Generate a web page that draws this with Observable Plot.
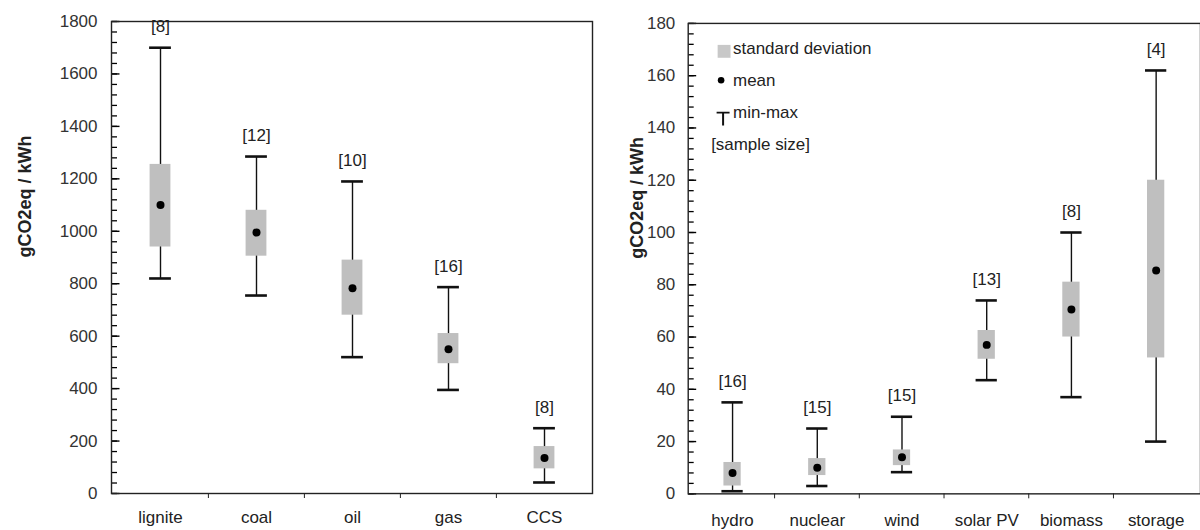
<!DOCTYPE html>
<html><head><meta charset="utf-8">
<script src="https://cdn.jsdelivr.net/npm/d3@7"></script>
<script src="https://cdn.jsdelivr.net/npm/@observablehq/plot@0.6"></script>
<style>
html,body{margin:0;padding:0;background:#fff;}
#wrap{position:relative;width:1200px;height:530px;overflow:hidden;background:#fff;}
#left{position:absolute;left:0;top:0;}
#right{position:absolute;left:600px;top:0;}
</style></head><body>
<div id="wrap"><div id="left"></div><div id="right"></div></div>
<script>
// ---- Left panel: fossil technologies ----
const fossilCats = ["lignite", "coal", "oil", "gas", "CCS"];
const fossilMin = [820, 755, 520, 395, 42];
const fossilSdLow = [940, 905, 680, 495, 94];
const fossilMean = [1100, 995, 783, 550, 135];
const fossilSdHigh = [1255, 1080, 890, 610, 179];
const fossilMax = [1700, 1285, 1190, 787, 249];
const fossilN = [8, 12, 10, 16, 8];
const fossilTicks = [0, 200, 400, 600, 800, 1000, 1200, 1400, 1600, 1800];
const fossilMinorTicks = d3.range(0, 1801, 40);

// ---- Right panel: low-carbon technologies ----
const lowCats = ["hydro", "nuclear", "wind", "solar PV", "biomass", "storage"];
const lowMin = [1, 3, 8.3, 43.5, 37, 20];
const lowSdLow = [3, 7, 10.8, 51.5, 60, 52];
const lowMean = [8, 10, 14, 57, 70.5, 85.5];
const lowSdHigh = [12, 13.5, 16.8, 62.5, 81, 120];
const lowMax = [35, 25, 29.5, 74, 100, 162];
const lowN = [16, 15, 15, 13, 8, 4];
const lowTicks = [0, 20, 40, 60, 80, 100, 120, 140, 160, 180];
const lowMinorTicks = d3.range(0, 181, 4);

const yTitle = "gCO2eq / kWh";
const legendLabels = ["standard deviation", "mean", "min-max", "[sample size]"];

function rows(cats, mn, lo, me, hi, mx, n) {
  return cats.map((c, i) => ({cat: c, min: mn[i], sdLow: lo[i], mean: me[i], sdHigh: hi[i], max: mx[i], n: n[i]}));
}

const tSymbol = {
  draw(ctx, size) {
    const s = Math.sqrt(size / Math.PI);
    ctx.moveTo(-s, -s); ctx.lineTo(s, -s);
    ctx.moveTo(0, -s); ctx.lineTo(0, s);
  }
};
// inward-pointing axis tick: a horizontal segment from the axis line to the right
const inTick = {
  draw(ctx, size) {
    const s = Math.sqrt(size / Math.PI);
    ctx.moveTo(0, 0); ctx.lineTo(s, 0);
  }
};

function panel(o) {
  const data = rows(o.cats, o.min, o.sdLow, o.mean, o.sdHigh, o.max, o.n);
  const bw = (o.width - o.ml - o.mr) / o.cats.length;
  const marks = [
    Plot.ruleX(data, {x: "cat", y1: "min", y2: "max", stroke: "#111", strokeWidth: 1.4}),
    Plot.barY(data, {x: "cat", y1: "sdLow", y2: "sdHigh", fill: "#bfbfbf", insetLeft: (bw - o.boxW) / 2, insetRight: (bw - o.boxW) / 2}),
    Plot.tickY(data, {x: "cat", y: "max", stroke: "#111", strokeWidth: 2.6, insetLeft: (bw - o.capW) / 2, insetRight: (bw - o.capW) / 2}),
    Plot.tickY(data, {x: "cat", y: "min", stroke: "#111", strokeWidth: 2.6, insetLeft: (bw - o.capW) / 2, insetRight: (bw - o.capW) / 2}),
    Plot.dot(data, {x: "cat", y: "mean", r: 4, fill: "#000", stroke: "none"}),
    Plot.text(data, {x: "cat", y: "max", text: d => `[${d.n}]`, dy: -21, fontSize: 17, fill: "#222", lineAnchor: "middle"}),
    Plot.dot(o.minorTicks, {y: d => d, frameAnchor: "left", symbol: inTick, r: 5.5, fill: "none", stroke: "#000", strokeWidth: 1.3}),
    Plot.dot(o.ticks, {y: d => d, frameAnchor: "left", symbol: inTick, r: 8, fill: "none", stroke: "#000", strokeWidth: 1.4}),
    Plot.axisY(o.ticks, {tickSize: 0, tickPadding: o.yPad, fontSize: 17, fill: "#333", label: null, tickFormat: d3.format("d")}),
    Plot.axisX(o.cats.slice(1), {tickSize: 5, dx: -bw / 2, tickFormat: () => "", stroke: "#222", label: null}),
    Plot.axisX(o.cats, {tickSize: 0, tickPadding: o.xPad, fontSize: 17, fill: "#222", label: null}),
    Plot.text([yTitle], {frameAnchor: "left", rotate: -90, dx: o.titleDx, fontSize: 18, fontWeight: "bold", fill: "#222"}),
    Plot.frame({stroke: "#222", strokeWidth: 1.4})
  ];
  if (o.legend) {
    marks.push(
      Plot.dot([0], {frameAnchor: "top-left", dx: 36, dy: 28, symbol: "square", r: 7.3, fill: "#c8c8c8", stroke: "none"}),
      Plot.text([legendLabels[0]], {frameAnchor: "top-left", dx: 45, dy: 25, textAnchor: "start", lineAnchor: "middle", fontSize: 17, fill: "#222"}),
      Plot.dot([0], {frameAnchor: "top-left", dx: 33, dy: 57, r: 3.3, fill: "#000", stroke: "none"}),
      Plot.text([legendLabels[1]], {frameAnchor: "top-left", dx: 45, dy: 57, textAnchor: "start", lineAnchor: "middle", fontSize: 17, fill: "#222"}),
      Plot.dot([0], {frameAnchor: "top-left", dx: 35, dy: 96, symbol: tSymbol, r: 6.5, fill: "none", stroke: "#111", strokeWidth: 2}),
      Plot.text([legendLabels[2]], {frameAnchor: "top-left", dx: 45, dy: 89, textAnchor: "start", lineAnchor: "middle", fontSize: 17, fill: "#222"}),
      Plot.text([legendLabels[3]], {frameAnchor: "top-left", dx: 23, dy: 122, textAnchor: "start", lineAnchor: "middle", fontSize: 17, fill: "#222"})
    );
  }
  return Plot.plot({
    width: o.width, height: 530,
    marginLeft: o.ml, marginRight: o.mr, marginTop: o.mt, marginBottom: o.mb,
    x: {type: "band", domain: o.cats, padding: 0, axis: null},
    y: {domain: o.domain, axis: null},
    style: {fontFamily: "'Liberation Sans', Arial, sans-serif", fontSize: "17px", background: "white", overflow: "visible"},
    marks
  });
}

document.getElementById("left").append(panel({
  cats: fossilCats, min: fossilMin, sdLow: fossilSdLow, mean: fossilMean, sdHigh: fossilSdHigh, max: fossilMax, n: fossilN,
  ticks: fossilTicks, minorTicks: fossilMinorTicks, domain: [0, 1800],
  width: 600, ml: 111, mr: 8, mt: 21, mb: 37, boxW: 21, capW: 22, yPad: 14, xPad: 17, titleDx: -86, legend: false
}));
document.getElementById("right").append(panel({
  cats: lowCats, min: lowMin, sdLow: lowSdLow, mean: lowMean, sdHigh: lowSdHigh, max: lowMax, n: lowN,
  ticks: lowTicks, minorTicks: lowMinorTicks, domain: [0, 180],
  width: 602, ml: 88, mr: 0, mt: 23, mb: 35, boxW: 18, capW: 22, yPad: 13, xPad: 20, titleDx: -51, legend: true
}));
</script>
</body></html>
